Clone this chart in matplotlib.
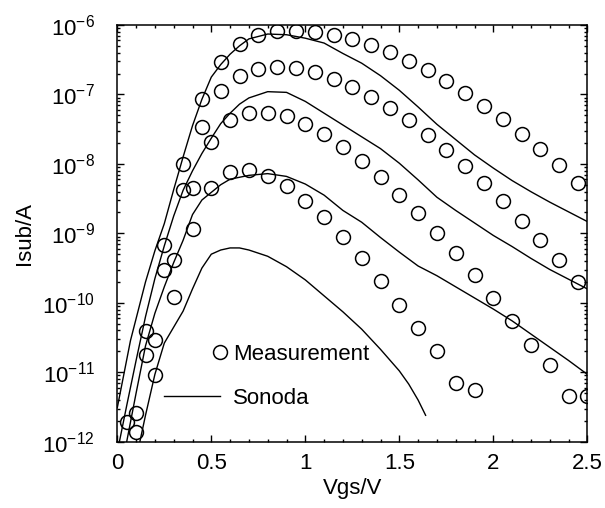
import numpy as np
import matplotlib
matplotlib.use("Agg")
import matplotlib.pyplot as plt
from matplotlib.lines import Line2D
from matplotlib.legend_handler import HandlerLine2D
from matplotlib.ticker import FixedLocator, LogLocator, MultipleLocator, NullFormatter

plt.rcParams['font.family'] = ['Liberation Sans', 'DejaVu Sans']
plt.rcParams['mathtext.fontset'] = 'custom'
plt.rcParams['mathtext.rm'] = 'Liberation Sans'
plt.rcParams['mathtext.it'] = 'Liberation Sans:italic'
plt.rcParams['mathtext.bf'] = 'Liberation Sans:bold'

# measurement points (x in V, exponent of Isub in A)
meas1_x = [0.05, 0.15, 0.25, 0.35, 0.45, 0.55, 0.65, 0.75, 0.85, 0.95, 1.05, 1.15, 1.25,
           1.35, 1.45, 1.55, 1.65, 1.75, 1.85, 1.95, 2.05, 2.15, 2.25, 2.35, 2.45]
meas1_e = [-11.71, -10.40, -9.165, -8.0, -7.07, -6.53, -6.27, -6.14, -6.087, -6.08, -6.097,
           -6.14, -6.20, -6.284, -6.394, -6.52, -6.654, -6.808, -6.98, -7.169, -7.36, -7.573,
           -7.79, -8.02, -8.276]

meas2_x = [0.15, 0.25, 0.35, 0.45, 0.55, 0.65, 0.75, 0.85, 0.95, 1.05, 1.15, 1.25,
           1.35, 1.45, 1.55, 1.65, 1.75, 1.85, 1.95, 2.05, 2.15, 2.25, 2.35, 2.45]
meas2_e = [-10.75, -9.53, -8.381, -7.467, -6.952, -6.73, -6.635, -6.606, -6.625, -6.683,
           -6.775, -6.89, -7.035, -7.193, -7.375, -7.583, -7.80, -8.03, -8.276, -8.54,
           -8.824, -9.098, -9.39, -9.694]

meas3_x = [0.1, 0.2, 0.3, 0.4, 0.5, 0.6, 0.7, 0.8, 0.9, 1.0, 1.1, 1.2, 1.3,
           1.4, 1.5, 1.6, 1.7, 1.8, 1.9, 2.0, 2.1, 2.2, 2.3, 2.4, 2.5]
meas3_e = [-11.59, -10.535, -9.377, -8.342, -7.68, -7.37, -7.265, -7.26, -7.317, -7.43,
           -7.57, -7.756, -7.953, -8.19, -8.443, -8.70, -8.99, -9.29, -9.60, -9.925,
           -10.26, -10.61, -10.89, -11.34, -11.34]

meas4_x = [0.1, 0.2, 0.3, 0.4, 0.5, 0.6, 0.7, 0.8, 0.9, 1.0, 1.1, 1.2, 1.3,
           1.4, 1.5, 1.6, 1.7, 1.8, 1.9]
meas4_e = [-11.86, -11.04, -9.92, -8.944, -8.342, -8.12, -8.09, -8.17, -8.32, -8.53,
           -8.77, -9.05, -9.36, -9.68, -10.03, -10.37, -10.70, -11.15, -11.26]

# Sonoda model curves
sonA_x = [0.0, 0.07, 0.15, 0.2, 0.25, 0.3, 0.35, 0.4, 0.45, 0.5, 0.55, 0.6, 0.65, 0.7,
          0.8, 0.9, 1.0, 1.1, 1.2, 1.3, 1.4, 1.5, 1.6, 1.7, 1.8, 1.9, 2.0, 2.1, 2.2,
          2.3, 2.4, 2.5]
sonA_e = [-11.51, -10.545, -9.7, -9.25, -8.86, -8.37, -7.9, -7.45, -7.07, -6.75, -6.57,
          -6.42, -6.3, -6.2, -6.13, -6.14, -6.19, -6.26, -6.41, -6.55, -6.73, -6.94,
          -7.18, -7.43, -7.65, -7.87, -8.06, -8.24, -8.40, -8.55, -8.69, -8.83]

sonB_x = [0.0, 0.05, 0.1, 0.15, 0.2, 0.25, 0.3, 0.35, 0.4, 0.45, 0.5, 0.55, 0.6, 0.65,
          0.7, 0.8, 0.9, 1.0, 1.1, 1.2, 1.3, 1.4, 1.5, 1.6, 1.7, 1.8, 1.9, 2.0, 2.1,
          2.2, 2.3, 2.4, 2.5]
sonB_e = [-12.15, -11.48, -10.83, -10.2, -9.65, -9.18, -8.75, -8.38, -8.1, -7.85, -7.63,
          -7.42, -7.27, -7.14, -7.05, -6.96, -6.97, -7.1, -7.27, -7.44, -7.61, -7.78,
          -7.99, -8.23, -8.48, -8.67, -8.85, -9.03, -9.19, -9.36, -9.52, -9.66, -9.80]

sonC_x = [0.05, 0.1, 0.15, 0.2, 0.25, 0.3, 0.35, 0.4, 0.45, 0.5, 0.55, 0.6, 0.7, 0.8,
          0.9, 1.0, 1.1, 1.2, 1.3, 1.4, 1.5, 1.6, 1.7, 1.8, 1.9, 2.0, 2.1, 2.2, 2.3,
          2.4, 2.5]
sonC_e = [-12.0, -11.3, -10.62, -10.15, -9.77, -9.42, -9.1, -8.73, -8.52, -8.41, -8.3,
          -8.22, -8.165, -8.14, -8.18, -8.29, -8.45, -8.67, -8.84, -9.06, -9.27, -9.47,
          -9.61, -9.77, -9.93, -10.09, -10.26, -10.45, -10.64, -10.83, -11.03]

sonD_x = [0.12, 0.15, 0.2, 0.25, 0.3, 0.35, 0.4, 0.45, 0.5, 0.55, 0.6, 0.65, 0.7, 0.8,
          0.9, 1.0, 1.1, 1.2, 1.3, 1.4, 1.5, 1.55, 1.6, 1.64]
sonD_e = [-12.0, -11.62, -11.03, -10.58, -10.35, -10.12, -9.8, -9.5, -9.3, -9.24, -9.21,
          -9.21, -9.24, -9.33, -9.48, -9.67, -9.9, -10.13, -10.38, -10.67, -10.98,
          -11.17, -11.40, -11.62]

y_ticks = [1e-12, 1e-11, 1e-10, 1e-9, 1e-8, 1e-7, 1e-6]
x_ticks = [0, 0.5, 1, 1.5, 2, 2.5]

meas = [(meas1_x, meas1_e), (meas2_x, meas2_e), (meas3_x, meas3_e), (meas4_x, meas4_e)]
son = [(sonA_x, sonA_e), (sonB_x, sonB_e), (sonC_x, sonC_e), (sonD_x, sonD_e)]

fig = plt.figure(figsize=(6.05, 5.08), dpi=100)
ax = fig.add_axes([117.3 / 605, 1 - 441.7 / 508, 470 / 605, 416.7 / 508])

for x, e in son:
    ax.plot(x, 10.0 ** np.array(e), color='black', lw=1.0)
for x, e in meas:
    ax.plot(x, 10.0 ** np.array(e), ls='none', marker='o', ms=10,
            mfc='none', mec='black', mew=1.1)

ax.set_yscale('log')
ax.set_xlim(0, 2.5)
ax.set_ylim(1e-12, 1e-6)
ax.xaxis.set_major_locator(FixedLocator(x_ticks))
ax.xaxis.set_minor_locator(MultipleLocator(0.1))
ax.xaxis.set_major_formatter(plt.FuncFormatter(lambda v, p: '%g' % v))
ax.yaxis.set_major_locator(FixedLocator(y_ticks))
ax.yaxis.set_minor_locator(LogLocator(base=10, subs=np.arange(2, 10), numticks=20))
ax.yaxis.set_minor_formatter(NullFormatter())
ax.tick_params(which='both', direction='in', top=True, right=True, labelsize=16, width=1.0)
ax.tick_params(which='major', length=5)
ax.tick_params(which='minor', length=2.5)
ax.tick_params(axis='x', which='major', pad=8)
ax.tick_params(axis='y', which='major', pad=16)
for s in ax.spines.values():
    s.set_linewidth(1.1)

ax.set_xlabel('Vgs/V', fontsize=16, labelpad=3)
ax.set_ylabel('Isub/A', fontsize=16, labelpad=5)


class RightMarker(HandlerLine2D):
    # put the single marker at the right end of the handle
    def get_xdata(self, legend, xdescent, ydescent, width, height, fontsize):
        xr = width - xdescent
        return np.array([xr, xr]), np.array([xr])


h_meas = Line2D([], [], ls='none', marker='o', ms=10, mfc='none', mec='black', mew=1.1)
h_son = Line2D([], [], color='black', lw=1.0)
ax.legend([h_meas, h_son], ['Measurement', 'Sonoda'], loc='upper left',
          bbox_to_anchor=(0.099, 0.235), frameon=False, fontsize=16,
          handlelength=2.55, handletextpad=0.55, labelspacing=1.05, borderpad=0,
          borderaxespad=0, handler_map={h_meas: RightMarker(numpoints=1)})

fig.savefig('out.png', dpi=100)
